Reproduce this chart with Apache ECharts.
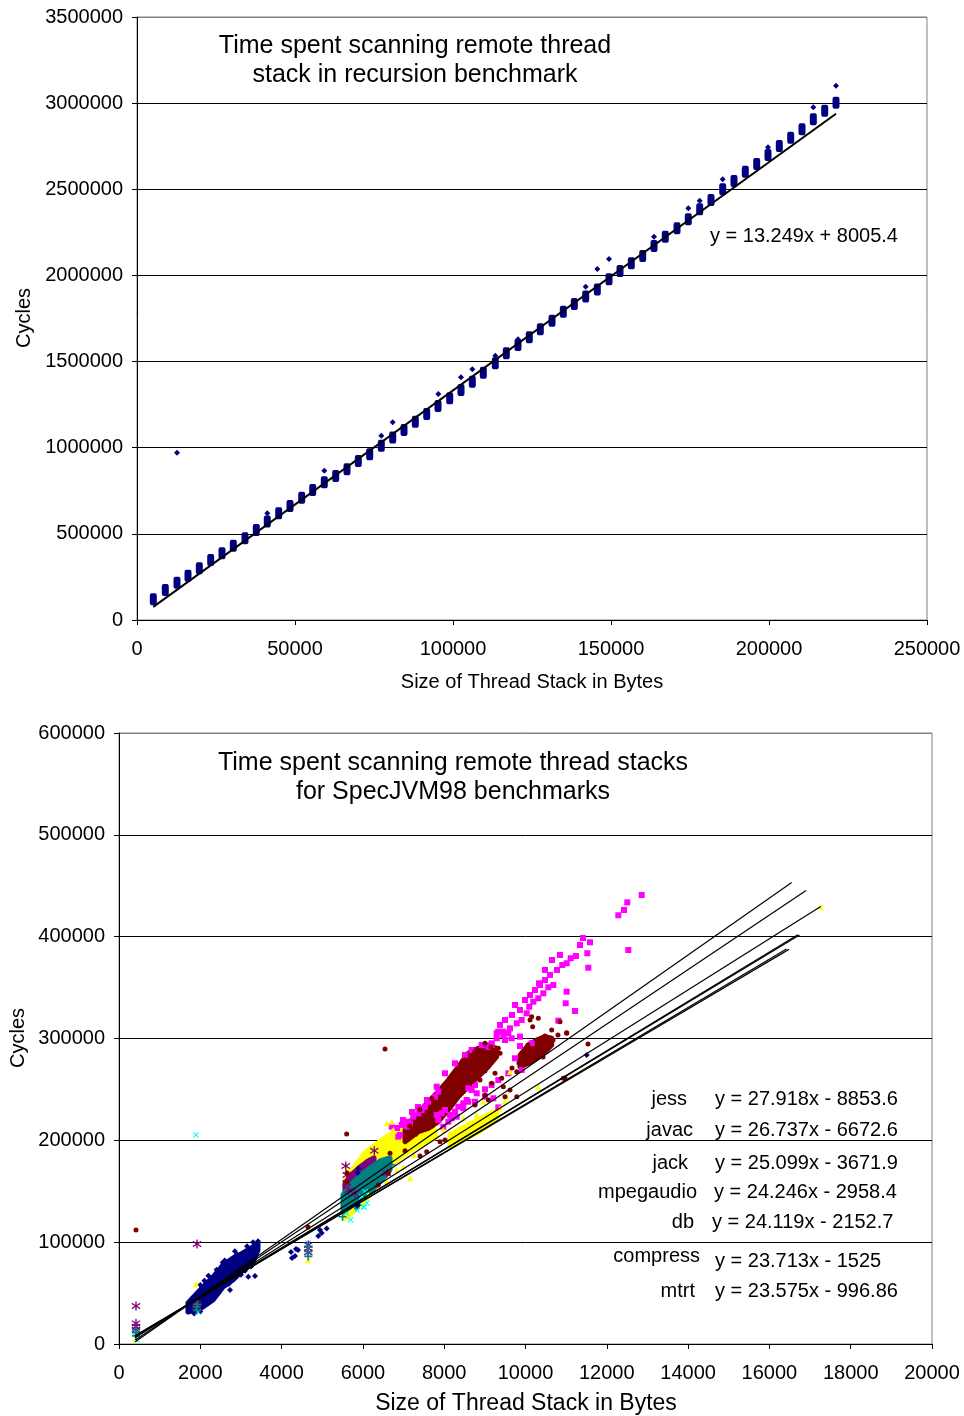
<!DOCTYPE html>
<html><head><meta charset="utf-8">
<script src="https://cdn.jsdelivr.net/npm/echarts@6/dist/echarts.min.js"></script>
<style>html,body{margin:0;padding:0;background:#fff}#c{width:964px;height:1416px}</style>
</head><body><div id="c"></div>
<script>
// ---------- TOP CHART DATA (recursion benchmark) ----------
const stackX = [5158,8956,12658,16139,19715,23323,26899,30475,34177,37753,41234,44842,48418,52120,55601,59272,62880,66456,70032,73639,77310,80918,84494,88070,91677,95253,
  98956,102532,106108,109589,113386,116867,120570,124146,127627,131329,134905,138386,141994,145665,149367,152848,156424,160032,163608,167184,170886,174462,178070,181646,185348,188924,192500,196108,199684,203260,206867,210443,214019,217627,221203];
const stackCycles = [120000,174000,216000,257000,300000,348000,387000,431000,474000,522000,571000,619000,662000,710000,755000,799000,836000,875000,923000,962000,1012000,1060000,1103000,1151000,1196000,1242000,
  1287000,1335000,1383000,1435000,1490000,1548000,1596000,1641000,1687000,1737000,1789000,1834000,1877000,1919000,1978000,2026000,2070000,2113000,2171000,2225000,2274000,2326000,2384000,2438000,2500000,2548000,2602000,2647000,2699000,2751000,2799000,2848000,2906000,2956000,3003000];
const outlierX = [12658,41234,59272,77310,80918,95348,102532,106108,113386,120570,141994,145665,149367,163608,174462,178070,185348,199684,214019,221203];
const outlierCycles = [971000,619000,867000,1070000,1148000,1312000,1409000,1455000,1534000,1629000,1935000,2037000,2095000,2225000,2390000,2434000,2558000,2744000,2976000,3101000];
const topSlope = 13.249, topIntercept = 8005.4;
const topTrendX = [5158, 221203];
const topTitle = ['Time spent scanning remote thread', 'stack in recursion benchmark'];
const topEquation = 'y = 13.249x + 8005.4';
const xAxisName = 'Size of Thread Stack in Bytes';
const yAxisName = 'Cycles';

// ---------- BOTTOM CHART DATA (SpecJVM98) ----------
// bands: [x, upperCycles, lowerCycles] — outline of dense point clouds
const navyBand = [[1697,40300,31400],[2066,56000,36300],[2312,65800,43200],[2558,77600,56000],[2804,84500,62800],[3050,89400,72700],[3296,95300,80500],[3419,99200,92300]];
const navyPoints = [[3181,66100],[3346,66800],[2731,53000],[2362,48100],[1750,33000],[4231,90300],[4330,86400],[4403,92300],[4256,84500],[4354,93300],[4945,111900],[4986,109000],[5109,113300],[4903,106000],[5887,172500],[5872,168200],[5887,136500],[5847,133300],[11505,283800],[3400,97000],
  [1800,45000],[2000,58000],[2200,67000],[2400,73000],[2600,82000],[2900,88000],[3150,96000],[3300,100000],[3420,101000],[2150,40000],[2450,50000],[2700,59000],[3000,68000],[3250,76000],[1850,30000],[2000,32000],[2100,62000],[2550,80000],[2850,91000],[3100,72000]];
const magentaPoints = [[12858,440900],[12504,433700],[12423,426200],[12283,421000],[12529,386900],[11587,394500],[11520,383700],[11242,381000],[11112,378800],[11013,373900],[10905,372200],[11545,369500],[11013,346000],[10989,334600],[11218,327000],[10807,317500],[10684,352500],[10561,350300],[10438,344400],[10332,354200],[10315,339500],[10192,336100],[10093,331200],[10029,324700],[9906,318200],[9784,314900],[9619,310000],[9454,306700],[9291,305100],[9168,295300],[9085,291900],[10234,347600],[10480,357400],[10603,362400],[10775,367300],[10111,342700],[9865,328000],[9668,323100],[9496,318200],[9373,313300],[9742,332900],[9988,337800],[10357,352500],[10480,367300],[10652,377100],[10849,382000],[11341,391800],[11414,398700],
  [9331,306700],[9454,303400],[9577,305100],[9660,300200],[9496,298500],[9291,300200],[9865,301800],[9865,292600],[10152,295300],[9168,293600],
  [9742,280600],[9906,269100],[9577,265800],[9331,259200],[9168,254300],[9004,250100],[8758,254300],[8676,249400],[8800,246200],[9004,242800],[9208,241300],[9331,232400],[8758,237900],[8593,237900],[8470,236400],[8347,233000],[8266,228100],[8184,221600],[8101,218300],[7978,213400],[8143,224900],[8307,223200],[8470,231500],[8553,239600],[8593,251100],[8020,229800],[7938,226500],[7815,224900],[7855,220000],
  [7609,237900],[7774,242800],[7855,247800],[7528,233000],[7446,229800],[7363,226500],[7240,223200],[7117,218300],[6708,213400],[7077,213400],[6913,205200],[7159,216700],[8512,283800],[8676,288700],[8922,293600],[8266,275600],[8020,265800],[7815,252700],[7577,239600],[7355,232700],[7208,227800],[6987,220000],[6839,212100],[6954,215100],[6871,203600]];
const yellowBand1 = [[5560,161000,123700],[5806,174800,131600],[6052,187600,141400],[6298,195400,153200],[6544,202300,168900],[6716,207200,176800],[6913,212100,182600],[7109,215100,188500],[7355,216000,194400],[7601,214100,199300],[7774,210100,202300]];
const yellowBand2 = [[8143,205300,194400],[8389,211100,199300],[8635,216100,204200],[8881,221000,209100],[9127,225900,216000],[9299,228800,221900]];
const yellowPoints = [[10315,252700],[9619,267400],[9537,242800],[9496,237900],[9373,231500],[9168,228100],[8962,237900],[8800,224900],[8593,215100],[8470,221600],[7978,210100],[7774,206900],[6708,218300],[6585,216700],[6748,210100],[6379,198700],[5601,170900],[5584,175800],[7159,162700],[6994,174100],[6831,170900],[6585,159400],[6133,146300],[5601,125000],[7257,185600],[4650,82500],[1894,58900],[17262,429400],[400,5000]];
const cyanPoints = [[6010,134800],[6052,149600],[5970,144600],[5601,128300],[5855,131600],[6101,138500],[6034,134200],[1894,205200],[4650,99200],[394,10800],[443,3900],[1943,31400],[5700,122000]];
const purpleBand = [[5560,158100,141400],[5732,166900,146300],[5929,173800,156100],[6125,179700,165000],[6273,182700,172800]];
const purplePoints = [[6280,189800],[5601,166000],[5601,158100],[5577,174800],[6585,167600],[418,37300],[1919,98200],[418,17000],[418,20300],[418,14000],[1911,40000],[1911,37000],[4657,97200],[4657,94000],[4657,90000],[5650,151000],[5800,148000]];
const darkRedBand1 = [[7036,210100,198700],[7200,220000,203600],[7363,226500,208500],[7609,237900,211800],[7855,247800,218300],[8101,259200,229800],[8347,272300,242800],[8593,285500,252700],[8839,290400,262500],[9085,293600,272300],[9291,290400,282100]];
const darkRedBand2 = [[9865,283800,272300],[10069,293600,275700],[10275,298500,280600],[10480,301800,287000],[10644,300200,293600]];
const darkRedPoints = [[5601,206200],[6544,289700],[10972,260900],[11537,294600],[10644,308300],[11013,305100],[10799,303400],[10930,260900],[9784,242800],[9496,242800],[9454,252700],[9414,260900],[9619,249400],[9004,244500],[9168,256000],[9250,265800],[8881,259200],[9085,239600],[8758,234700],[8020,200300],[7897,198700],[7569,188800],[7036,189800],[7405,184600],[9784,267400],[9947,274000],[9331,290400],[9373,285500],[9004,295300],[9151,291900],[6667,187300],[5609,167900],[5609,159400],[6625,167600],[6379,156100],[418,111900],[4650,114900],[10111,318200],[10176,311600],[10849,316500],[11013,305700],[10152,321400],[10315,319800],[9988,278900],[10160,286700],[10357,290700],[10553,296600],[10061,293600],[10283,298500],[10480,302500],[9840,276000],[9668,271000],[10234,280900],[10677,298500],[10430,281800],
  [7150,214000],[7400,230000],[7700,241000],[8000,253000],[8250,266000],[8500,279000],[8750,287000],[7300,206000],[7700,214000],[8200,236000],[8700,258000],[9000,268000]];
const tealBand = [[5510,146300,129600],[5683,156100,134500],[5929,165000,141400],[6175,172800,149300],[6421,179700,159100],[6667,182700,170900]];
const tealPoints = [[418,11100],[418,8000],[418,14000],[1911,36600],[1911,33000],[1930,39000],[4657,90600],[4657,86000],[4657,95000],[5500,125000],[6700,176000]];

const trendNames = ['jess','javac','jack','mpegaudio','db','compress','mtrt'];
const trendSlope = [27.918,26.737,25.099,24.246,24.119,23.713,23.575];
const trendIntercept = [-8853.6,-6672.6,-3671.9,-2958.4,-2152.7,-1525,-996.86];
const trendStartX = [400,400,400,400,400,400,400];
const trendEndX = [16548,16902,17262,16700,16740,16420,16480];
const trendEquations = ['y = 27.918x - 8853.6','y = 26.737x - 6672.6','y = 25.099x - 3671.9','y = 24.246x - 2958.4','y = 24.119x - 2152.7','y = 23.713x - 1525','y = 23.575x - 996.86'];
const bottomTitle = ['Time spent scanning remote thread stacks', 'for SpecJVM98 benchmarks'];

// ---------- RENDER ----------
const FF = '"Liberation Sans", Arial, sans-serif';
const chart = echarts.init(document.getElementById('c'), null, {renderer:'canvas'});

function bandSeries(band, color, gi){
  return {type:'custom', xAxisIndex:gi, yAxisIndex:gi, silent:true, data:[band[0]],
    encode:{x:0,y:1},
    renderItem:function(params, api){
      if(params.dataIndex!==0) return null;
      const pts=[];
      band.forEach(r=>pts.push(api.coord([r[0],r[1]])));
      for(let i=band.length-1;i>=0;i--) pts.push(api.coord([band[i][0],band[i][2]]));
      return {type:'polygon', shape:{points:pts}, style:{fill:color, stroke:color, lineWidth:5, lineJoin:'round'}};
    }};
}
function scat(points, color, symbol, size, gi){
  return {type:'scatter', xAxisIndex:gi, yAxisIndex:gi, data:points, symbol:symbol, symbolSize:size,
    itemStyle:{color:color, opacity:1}, silent:true};
}
const plusSym = 'path://M4,0H6V4H10V6H6V10H4V6H0V4H4Z';
const xSym = 'path://M0,1.2L1.2,0L5,3.8L8.8,0L10,1.2L6.2,5L10,8.8L8.8,10L5,6.2L1.2,10L0,8.8L3.8,5Z';
const starSym = 'path://M4.3,0H5.7V3.8L8.9,1.5L9.7,2.7L6.3,5L9.7,7.3L8.9,8.5L5.7,6.2V10H4.3V6.2L1.1,8.5L0.3,7.3L3.7,5L0.3,2.7L1.1,1.5L4.3,3.8Z';

const series = [];
// top chart
series.push(scat(stackX.map((x,i)=>[x,stackCycles[i]]),'#000080','roundRect',[7,12],0));
series.push(scat(outlierX.map((x,i)=>[x,outlierCycles[i]]),'#000080','diamond',6,0));
series.push({type:'line', xAxisIndex:0, yAxisIndex:0, data:topTrendX.map(x=>[x, topSlope*x+topIntercept]), symbol:'none', lineStyle:{color:'#000', width:2}, silent:true});
// bottom chart (series order: navy, magenta, yellow, cyan, purple, dark red, teal)
series.push(bandSeries(navyBand,'#000080',1));
series.push(scat(navyPoints,'#000080','diamond',6,1));
series.push(scat(magentaPoints,'#FF00FF','rect',6,1));
series.push(bandSeries(yellowBand1,'#FFFF00',1));
series.push(bandSeries(yellowBand2,'#FFFF00',1));
series.push(scat(yellowPoints,'#FFFF00','triangle',6,1));
series.push(scat(cyanPoints,'#00FFFF',xSym,6,1));
series.push(bandSeries(purpleBand,'#800080',1));
series.push(scat(purplePoints,'#800080',starSym,9,1));
series.push(bandSeries(darkRedBand1,'#800000',1));
series.push(bandSeries(darkRedBand2,'#800000',1));
series.push(scat(darkRedPoints,'#800000','circle',5,1));
series.push(bandSeries(tealBand,'#008080',1));
series.push(scat(tealPoints,'#008080',plusSym,8,1));
trendNames.forEach((n,i)=>{
  series.push({type:'line', name:n, xAxisIndex:1, yAxisIndex:1, symbol:'none', silent:true,
    data:[trendStartX[i], trendEndX[i]].map(x=>[x, trendSlope[i]*x+trendIntercept[i]]),
    lineStyle:{color:'#000', width:1.2}});
});

function xAx(gi,max,interval){
  return {gridIndex:gi, type:'value', min:0, max:max, interval:interval,
    axisLine:{show:true,onZero:false,lineStyle:{color:'#000',width:1}},
    axisTick:{show:true,length:5,lineStyle:{color:'#000'}},
    axisLabel:{color:'#000',fontSize:20,fontFamily:FF,margin:19,formatter:v=>String(v)},
    splitLine:{show:false}};
}
function yAx(gi,max,interval,nLines){
  const cols=[]; for(let i=0;i<nLines;i++) cols.push(i===nLines-1?'#808080':'#000');
  return {gridIndex:gi, type:'value', min:0, max:max, interval:interval,
    axisLine:{show:true,onZero:false,lineStyle:{color:'#000',width:1}},
    axisTick:{show:true,length:5,lineStyle:{color:'#000'}},
    axisLabel:{color:'#000',fontSize:20,fontFamily:FF,margin:14,formatter:v=>String(v)},
    splitLine:{show:true,lineStyle:{color:cols,width:1}}};
}

function txt(x,y,text,size,align,rot){
  return {type:'text', x:x, y:y, rotation:rot||0, z:100, silent:true,
    style:{text:text, fill:'#000', font:size+'px '+FF, align:align||'center', verticalAlign:'middle'}};
}
const graphics = [
  txt(415,46,topTitle[0],25), txt(415,75,topTitle[1],25),
  txt(710,236,topEquation,20,'left'),
  txt(532,682,xAxisName,20), txt(24,318,yAxisName,20,'center',Math.PI/2),
  txt(453,763,bottomTitle[0],25), txt(453,792,bottomTitle[1],25),
  txt(526,1404,xAxisName,23), txt(18,1038,yAxisName,20,'center',Math.PI/2)
];
const nameRight = [687,693,688,697,694,700,695];
const nameY = [1099,1130,1163,1192,1222,1256,1291];
const eqLeft = [715,715,715,714,712,715,715];
const eqY = [1099,1130,1163,1192,1222,1261,1291];
trendNames.forEach((n,i)=>{
  graphics.push(txt(nameRight[i],nameY[i],n,20,'right'));
  graphics.push(txt(eqLeft[i],eqY[i],trendEquations[i],20,'left'));
});

chart.setOption({
  animation:false,
  backgroundColor:'#fff',
  grid:[
    {left:137, top:17, width:790, height:603, show:true, borderColor:'#808080', borderWidth:1, backgroundColor:'transparent'},
    {left:119, top:733, width:813, height:611, show:true, borderColor:'#808080', borderWidth:1, backgroundColor:'transparent'}
  ],
  xAxis:[xAx(0,250000,50000), xAx(1,20000,2000)],
  yAxis:[yAx(0,3500000,500000,8), yAx(1,600000,100000,7)],
  series:series,
  graphic:graphics
});
</script></body></html>
